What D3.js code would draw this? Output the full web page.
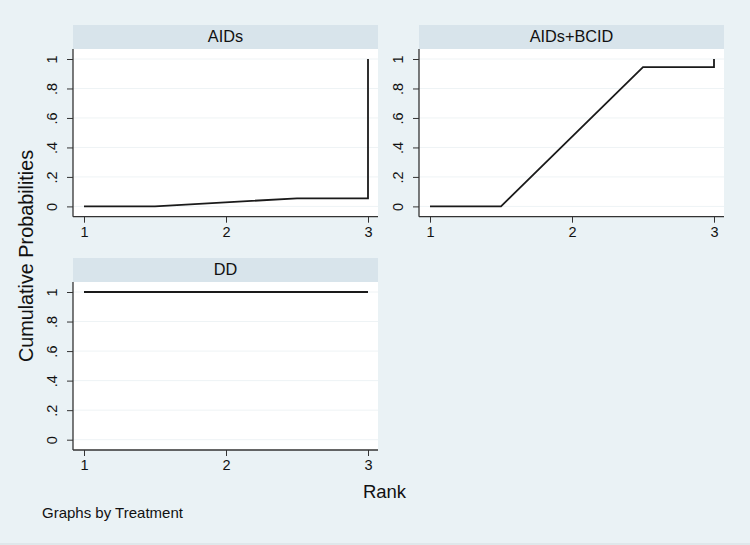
<!DOCTYPE html>
<html><head><meta charset="utf-8">
<script src="https://cdn.jsdelivr.net/npm/d3@7"></script>
<style>body{margin:0;background:#eaf2f5;}svg{display:block;font-family:"Liberation Sans",Arial,sans-serif;}</style>
</head><body>
<svg id="c" width="750" height="545"></svg>
<script>
const treatments = ["AIDs", "AIDs+BCID", "DD"];
const rankPoints = [1, 1.5, 2.5, 3, 3];
const aidsValues = [0, 0, 0.055, 0.055, 1];
const aidsBcidValues = [0, 0, 0.945, 0.945, 1];
const ddValues = [1, 1, 1, 1, 1];
const yTicks = [0, 0.2, 0.4, 0.6, 0.8, 1];
const yTickLabels = ["0", ".2", ".4", ".6", ".8", "1"];
const xTicks = [1, 2, 3];
const seriesValues = [aidsValues, aidsBcidValues, ddValues];

const svg = d3.select("#c");
svg.append("rect").attr("width",750).attr("height",545).attr("fill","#eaf2f5");
svg.append("line").attr("x1",0).attr("x2",750).attr("y1",544).attr("y2",544).attr("stroke","#d5dde0");

const panels = [
  {x0:73, x1:378, sTop:25, sBot:49, pBot:216.7},
  {x0:419, x1:724, sTop:25, sBot:49, pBot:216.7},
  {x0:73, x1:378, sTop:258, sBot:282, pBot:450}
];

panels.forEach((p, i) => {
  const g = svg.append("g");
  g.append("rect").attr("x",p.x0).attr("y",p.sTop).attr("width",p.x1-p.x0).attr("height",p.sBot-p.sTop).attr("fill","#d8e4eb");
  g.append("text").attr("x",(p.x0+p.x1)/2).attr("y",p.sTop+16.8).attr("text-anchor","middle")
    .attr("font-size",16.3).attr("fill","#111").text(treatments[i]);
  g.append("rect").attr("x",p.x0).attr("y",p.sBot).attr("width",p.x1-p.x0).attr("height",p.pBot-p.sBot).attr("fill","#ffffff");
  const x = d3.scaleLinear().domain([1,3]).range([p.x0+11, p.x1-10]);
  const y = d3.scaleLinear().domain([0,1]).range([p.pBot-10.3, p.sBot+10]);
  g.selectAll(".grid").data(yTicks).enter().append("line")
    .attr("x1",p.x0).attr("x2",p.x1).attr("y1",d=>y(d)).attr("y2",d=>y(d))
    .attr("stroke","#eef3f5").attr("stroke-width",1);
  const ya = g.append("g").attr("transform",`translate(${p.x0},0)`)
    .call(d3.axisLeft(y).tickValues(yTicks).tickSize(6).tickFormat((d,j)=>yTickLabels[j]));
  ya.attr("font-size",null).attr("font-family",null);
  ya.select(".domain").attr("d",`M0,${p.sBot}V${p.pBot}`).attr("stroke","#333").attr("stroke-width",1.3);
  ya.selectAll(".tick line").attr("stroke","#333");
  ya.selectAll(".tick text").attr("font-size",14.5).attr("fill","#111")
    .attr("x",0).attr("y",0).attr("dy","0").attr("text-anchor","middle")
    .attr("transform","translate(-16,0) rotate(-90)");
  const xa = g.append("g").attr("transform",`translate(0,${p.pBot})`)
    .call(d3.axisBottom(x).tickValues(xTicks).tickSize(6).tickFormat(d3.format("d")));
  xa.attr("font-size",null).attr("font-family",null);
  xa.select(".domain").attr("d",`M${p.x0},0H${p.x1}`).attr("stroke","#333").attr("stroke-width",1.3);
  xa.selectAll(".tick line").attr("stroke","#333");
  xa.selectAll(".tick text").attr("font-size",14.5).attr("fill","#111").attr("y",10);
  const data = rankPoints.map((r,k)=>[r, seriesValues[i][k]]);
  g.append("path").datum(data).attr("fill","none").attr("stroke","#1a1a1a").attr("stroke-width",1.8)
    .attr("d", d3.line().x(d=>x(d[0])).y(d=>y(d[1])));
});

svg.append("text").attr("transform","translate(33,256) rotate(-90)").attr("text-anchor","middle")
  .attr("font-size",19.8).attr("fill","#111").text("Cumulative Probabilities");
svg.append("text").attr("x",384.5).attr("y",498).attr("text-anchor","middle")
  .attr("font-size",18.5).attr("fill","#111").text("Rank");
svg.append("text").attr("x",42).attr("y",517.5).attr("font-size",15).attr("fill","#111").text("Graphs by Treatment");
</script>
</body></html>
